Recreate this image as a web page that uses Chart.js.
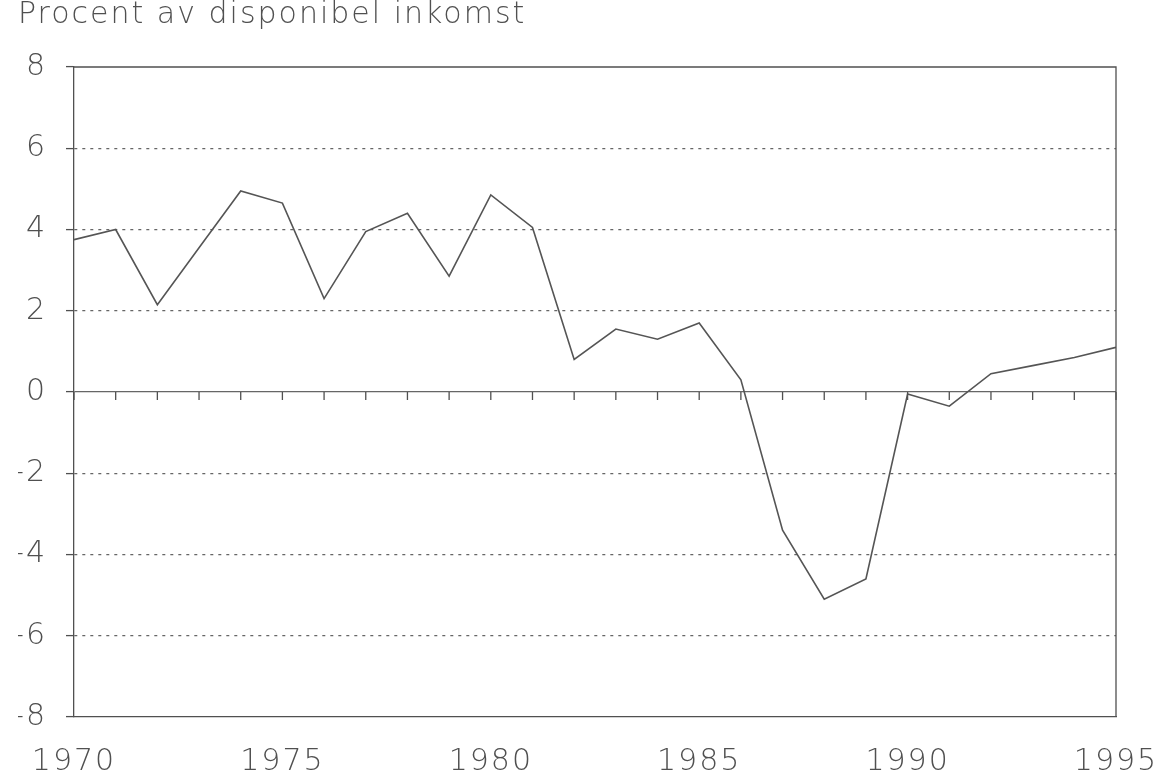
<!DOCTYPE html>
<html>
<head>
<meta charset="utf-8">
<script src="https://cdn.jsdelivr.net/npm/chart.js@4/dist/chart.umd.min.js"></script>
<style>
  html, body { margin: 0; padding: 0; background: #fff; }
  #wrap { width: 1157px; height: 776px; }
</style>
</head>
<body>
<div id="wrap"><canvas id="savingChart"></canvas></div>
<script>
  // Hushållens sparande, procent av disponibel inkomst
  const years = [1970, 1971, 1972, 1973, 1974, 1975, 1976, 1977, 1978, 1979,
                 1980, 1981, 1982, 1983, 1984, 1985, 1986, 1987, 1988, 1989,
                 1990, 1991, 1992, 1993, 1994, 1995];
  const savingRate = [3.75, 4.0, 2.15, 3.55, 4.95, 4.65, 2.3, 3.95, 4.4, 2.85,
                      4.85, 4.05, 0.8, 1.55, 1.3, 1.7, 0.3, -3.4, -5.1, -4.6,
                      -0.05, -0.35, 0.45, 0.65, 0.85, 1.1];
  const yTicks = [-8, -6, -4, -2, 0, 2, 4, 6, 8];
  const xTicks = [1970, 1975, 1980, 1985, 1990, 1995];
  const titleText = 'Procent av disponibel inkomst';

  const ink = '#505050';
  const fontFamily = "'DejaVu Sans', sans-serif";

  // wide, thin lettering like the plotter font
  const spacingPlugin = {
    id: 'spacing',
    beforeUpdate(chart) { chart.ctx.letterSpacing = '2px'; },
    beforeDraw(chart) { chart.ctx.letterSpacing = '2px'; }
  };

  // frame + small year ticks on the zero line
  const framePlugin = {
    id: 'frame',
    afterDatasetsDraw(chart) {
      const ctx = chart.ctx;
      const a = chart.chartArea;
      const x = chart.scales.x;
      const y = chart.scales.y;
      ctx.save();
      ctx.strokeStyle = ink;
      ctx.lineWidth = 1.3;
      ctx.beginPath();
      ctx.moveTo(a.left, a.top);
      ctx.lineTo(a.right, a.top);
      ctx.lineTo(a.right, a.bottom);
      ctx.stroke();
      const y0 = y.getPixelForValue(0);
      ctx.beginPath();
      years.forEach(yr => {
        const px = x.getPixelForValue(yr);
        ctx.moveTo(px, y0);
        ctx.lineTo(px, y0 + 8);
      });
      ctx.stroke();
      ctx.restore();
    }
  };

  const config = {
    type: 'line',
    data: {
      datasets: [{
        data: years.map((yr, i) => ({ x: yr, y: savingRate[i] })),
        borderColor: '#555',
        borderWidth: 1.6,
        pointRadius: 0,
        tension: 0,
        fill: false
      }]
    },
    options: {
      responsive: true,
      maintainAspectRatio: false,
      animation: false,
      layout: { padding: { left: 18, right: 41, top: 0, bottom: 0 } },
      scales: {
        x: {
          type: 'linear',
          min: 1970,
          max: 1995,
          afterBuildTicks: s => { s.ticks = xTicks.map(v => ({ value: v })); },
          afterFit: s => { s.height = 59; s.paddingLeft = 0; s.paddingRight = 0; },
          ticks: {
            color: ink,
            font: { family: fontFamily, size: 30, weight: 200, lineHeight: 1 },
            padding: 30,
            maxRotation: 0,
            autoSkip: false,
            callback: v => String(v)
          },
          grid: { display: false, drawTicks: false },
          border: { display: true, color: ink, width: 1.3 }
        },
        y: {
          min: -8,
          max: 8,
          afterBuildTicks: s => { s.ticks = yTicks.map(v => ({ value: v })); },
          afterFit: s => { s.width = 56; s.paddingTop = 0; s.paddingBottom = 0; },
          ticks: {
            color: ink,
            font: { family: fontFamily, size: 30, weight: 200, lineHeight: 1 },
            padding: 19,
            callback: v => String(v).replace('-', '\u2013')
          },
          grid: {
            drawTicks: true,
            tickLength: 8,
            tickColor: ink,
            tickWidth: 1.3,
            tickBorderDash: [],
            lineWidth: 1.2,
            color: c => (c.tick && Math.abs(c.tick.value) === 8) ? 'rgba(0,0,0,0)' : '#666'
          },
          border: {
            display: true,
            color: ink,
            width: 1.3,
            dash: c => (c.tick && c.tick.value === 0) ? [] : [3, 5]
          }
        }
      },
      plugins: {
        legend: { display: false },
        tooltip: { enabled: false },
        title: {
          display: true,
          text: titleText,
          align: 'start',
          color: ink,
          font: { family: fontFamily, size: 30, weight: 200, lineHeight: 1 },
          padding: { top: 0, bottom: 37 }
        }
      }
    },
    plugins: [spacingPlugin, framePlugin]
  };

  window.onload = function() {
    new Chart(document.getElementById('savingChart'), config);
  };
</script>
</body>
</html>
